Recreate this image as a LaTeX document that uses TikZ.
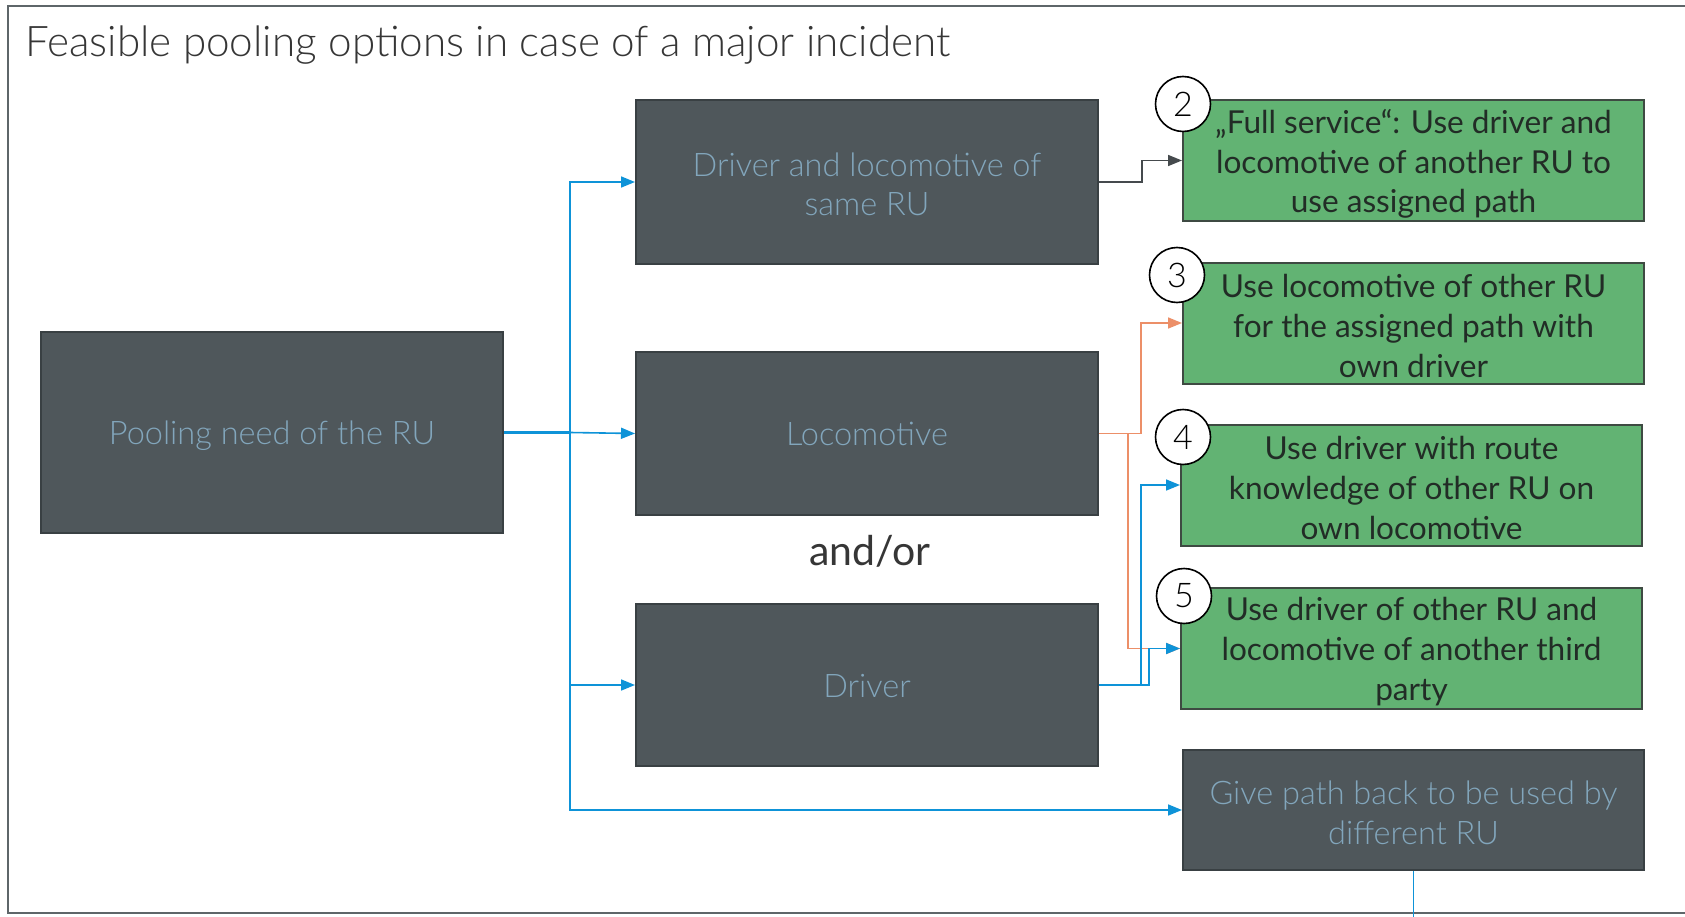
\documentclass[tikz,border=0pt]{standalone}
\usepackage{fontspec}
\setmainfont{Lato}
\newfontfamily\lightfont{Lato Light}
\usetikzlibrary{arrows.meta}

\definecolor{darkfill}{HTML}{4F575B}
\definecolor{darkedge}{HTML}{394043}
\definecolor{darktext}{HTML}{82A6BC}
\definecolor{greenfill}{HTML}{62B373}
\definecolor{greenedge}{HTML}{3E4A42}
\definecolor{greentext}{HTML}{222C26}
\definecolor{flowblue}{HTML}{0E93D8}
\definecolor{floworange}{HTML}{EC8F68}
\definecolor{flowgray}{HTML}{454A4D}
\definecolor{framegray}{HTML}{5E6669}
\definecolor{titlegray}{HTML}{363636}

\tikzset{
  darkbox/.style={draw=darkedge, line width=2pt, fill=darkfill, inner sep=0pt},
  darkcaption/.style={text=darktext, font=\lightfont\fontsize{32.5}{39.5}\selectfont,
    align=center, inner sep=0pt},
  greenbox/.style={draw=greenedge, line width=2pt, fill=greenfill, inner sep=0pt,
    minimum width=461pt, minimum height=121pt},
  greencaption/.style={text=greentext, font=\fontsize{31.6}{39.8}\selectfont,
    align=center, inner sep=0pt},
  numcircle/.style={circle, draw=black, line width=1.6pt, fill=white,
    minimum size=55pt, inner sep=0pt, font=\lightfont\fontsize{34}{34}\selectfont},
  tip/.style={-{Triangle[length=14pt,width=11pt]}},
  blueline/.style={draw=flowblue, line width=1.6pt},
  bluearrow/.style={blueline, tip},
  orangearrow/.style={draw=floworange, line width=1.6pt, tip},
  grayarrow/.style={draw=flowgray, line width=1.6pt, tip},
}

\begin{document}
\begin{tikzpicture}[x=1pt,y=-1pt]
  \useasboundingbox (0,0) rectangle (1685,917);
  \clip (0,0) rectangle (1685,917);
  \fill[white] (0,0) rectangle (1685,917);

  % outer frame
  \draw[framegray, line width=2pt] (8,6) rectangle (1700,913);

  % heading
  \node[anchor=base west, inner sep=0pt, text=titlegray,
        font=\lightfont\fontsize{42.2}{42.2}\selectfont] (title) at (25,57)
        {Feasible pooling options in case of a major incident};

  % situation boxes
  \node[darkbox, minimum width=462pt, minimum height=201pt] (need) at (272,432.5) {};
  \node[darkcaption] (needtext) at ([yshift=-3pt]need.center) {Pooling need of the RU};
  \node[darkbox, minimum width=462pt, minimum height=164pt] (same) at (867,182) {};
  \node[darkcaption] (sametext) at ([yshift=-2.5pt]same.center) {Driver and locomotive of\\same RU};
  \node[darkbox, minimum width=462pt, minimum height=163pt] (loco) at (867,433.5) {};
  \node[darkcaption] (locotext) at ([yshift=-0.5pt]loco.center) {Locomotive};
  \node[darkbox, minimum width=462pt, minimum height=162pt] (driver) at (867,685) {};
  \node[darkcaption] (drivertext) at ([yshift=-1pt]driver.center) {Driver};
  \node[text=titlegray, font=\fontsize{41}{41}\selectfont, inner sep=0pt] (andor) at (870,551)
        {and/or};

  % options
  \node[greenbox] (g2) at (1413.5,160.5) {};
  \node[greencaption] (g2text) at ([yshift=-3.5pt]g2.center)
        {„Full service“: Use driver and\\locomotive of another RU to\\use assigned path};
  \node[greenbox] (g3) at (1413.5,323) {};
  \node[greencaption] (g3text) at ([yshift=-3pt]g3.center)
        {Use locomotive of other RU\\for the assigned path with\\own driver};
  \node[greenbox] (g4) at (1411.5,485) {};
  \node[greencaption] (g4text) at ([yshift=-3pt]g4.center)
        {Use driver with route\\knowledge of other RU on\\own locomotive};
  \node[greenbox] (g5) at (1411.5,648.5) {};
  \node[greencaption] (g5text) at ([yshift=-3pt]g5.center)
        {Use driver of other RU and\\locomotive of another third\\party};
  \node[darkbox, minimum width=461pt, minimum height=120pt] (give) at (1413.5,810) {};
  \node[darkcaption] (givetext) at ([yshift=-3pt]give.center)
        {Give path back to be used by\\different RU};

  % option numbers
  \node[numcircle] (n2) at (1183,104) {2};
  \node[numcircle] (n3) at (1177,275) {3};
  \node[numcircle] (n4) at (1183,437) {4};
  \node[numcircle] (n5) at (1184,596) {5};

  % distribution from the pooling need
  \coordinate (split) at (570,432.5);
  \draw[blueline, line width=2.2pt] (need.east) -- (split);
  \draw[bluearrow] (split) |- (same.west);
  \draw[bluearrow] (split) -- (loco.west);
  \draw[bluearrow] (split) |- (driver.west);
  \draw[bluearrow] (split) |- (give.west);

  % routes to the options
  \draw[grayarrow] (same.east) -- ++(43,0) |- (g2.west);
  \draw[orangearrow] (loco.east) -- ++(42,0) |- (g3.west);
  \draw[orangearrow] (loco.east) -- ++(29,0) |- (g5.west);
  \draw[bluearrow] (driver.east) -- ++(42,0) |- (g4.west);
  \draw[bluearrow] (driver.east) -- ++(50,0) |- (g5.west);
  \coordinate (giveend) at (1413.5,930);
  \draw[blueline] (give.south) -- (giveend);
\end{tikzpicture}
\end{document}
